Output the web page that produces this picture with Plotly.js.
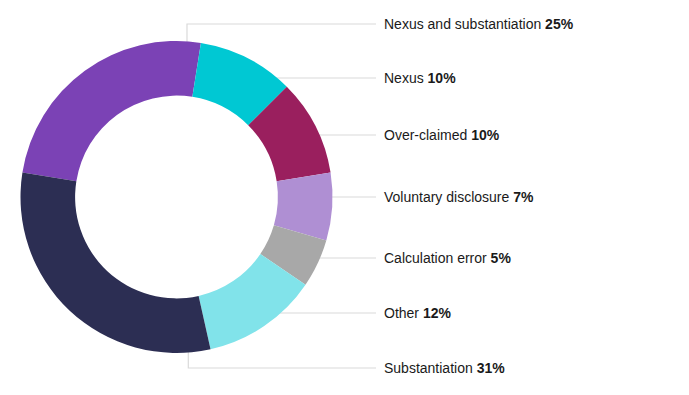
<!DOCTYPE html>
<html>
<head>
<meta charset="utf-8">
<script src="https://cdn.plot.ly/plotly-3.0.1.min.js"></script>
<style>html,body{margin:0;padding:0;background:#fff;}#chart{width:689px;height:395px;}</style>
</head>
<body>
<div id="chart"></div>
<script>
// Data
const categories = ["Nexus and substantiation", "Nexus", "Over-claimed", "Voluntary disclosure", "Calculation error", "Other", "Substantiation"];
const values = [25, 10, 10, 7, 5, 12, 31];
const colors = ["#7b42b5", "#00c8d3", "#9a1f5e", "#af8fd3", "#a8a8a8", "#81e3ea", "#2c2e53"];

// Layout geometry (pixels)
const W = 689, H = 395;
const cx = 176.5, cy = 197, R = 156;
const labelY = [24, 78, 135, 197, 258, 313, 368];
const labelX = 382, lineEndX = 376;

const px = x => x / W;
const py = y => 1 - y / H;

const trace = {
  type: "pie",
  labels: categories,
  values: values,
  sort: false,
  direction: "clockwise",
  rotation: -81,
  hole: 0.65,
  textinfo: "none",
  hoverinfo: "label+percent",
  marker: {colors: colors, line: {width: 0}},
  domain: {x: [px(cx - R), px(cx + R)], y: [py(cy + R), py(cy - R)]},
  showlegend: false
};

const shapes = [];
const annotations = [];
categories.forEach((c, i) => {
  const y = labelY[i];
  const line = {color: "#dadada", width: 1.2};
  if (i === 0 || i === categories.length - 1) {
    const vx = i === 0 ? 187 : 188.3;
    const dy = Math.sqrt(R * R - (vx - cx) * (vx - cx));
    const edgeY = i === 0 ? cy - dy + 4 : cy + dy - 4;
    shapes.push({type: "path", xref: "paper", yref: "paper", layer: "below",
      path: `M ${px(vx)} ${py(edgeY)} L ${px(vx)} ${py(y)} L ${px(lineEndX)} ${py(y)}`, line: line});
  } else {
    const dx = Math.sqrt(Math.max(0, R * R - (y - cy) * (y - cy)));
    shapes.push({type: "line", xref: "paper", yref: "paper", layer: "below",
      x0: px(cx + dx - 4), x1: px(lineEndX), y0: py(y), y1: py(y), line: line});
  }
  annotations.push({
    xref: "paper", yref: "paper", x: px(labelX), y: py(y),
    xanchor: "left", yanchor: "middle", showarrow: false,
    text: c + " <b>" + values[i] + "%</b>",
    font: {family: "Liberation Sans, Arial, sans-serif", size: 14, color: "#1a1a1a"}
  });
});

const layout = {
  width: W, height: H,
  margin: {l: 0, r: 0, t: 0, b: 0},
  paper_bgcolor: "#fff",
  shapes: shapes,
  annotations: annotations
};

Plotly.newPlot("chart", [trace], layout, {displayModeBar: false, staticPlot: true});
</script>
</body>
</html>
